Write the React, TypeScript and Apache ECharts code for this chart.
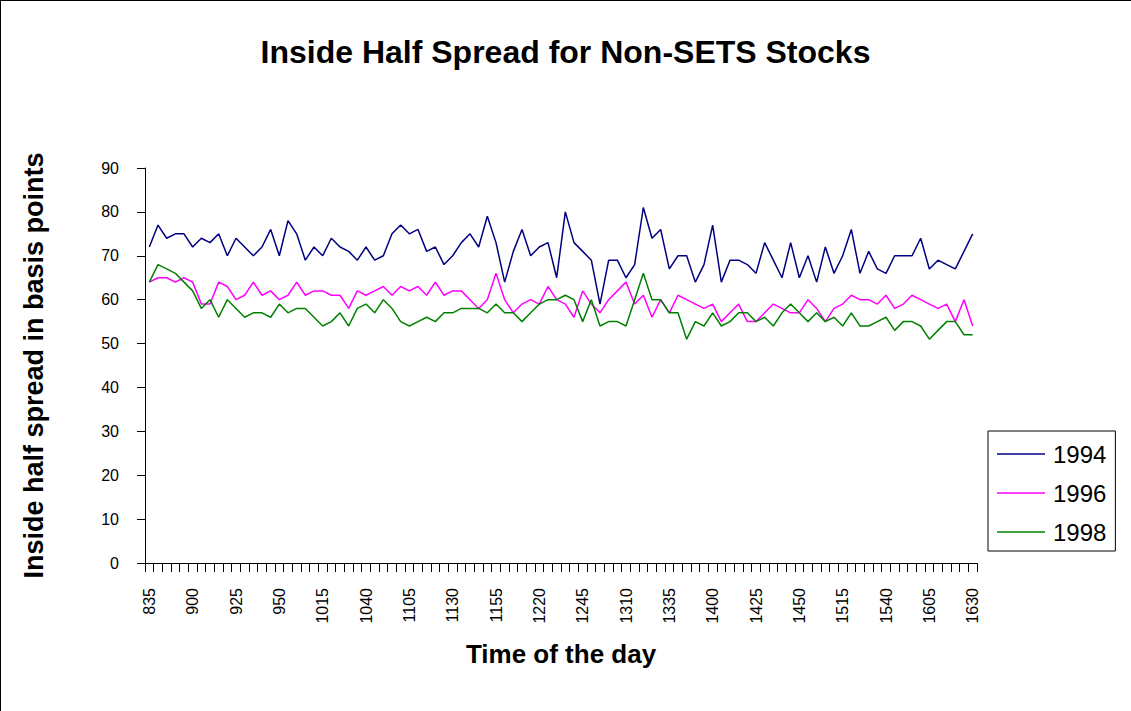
import React, { useEffect, useRef } from "react";
import * as echarts from "echarts";

const times: string[] = [
  "835","840","845","850","855","900","905","910","915","920","925","930","935","940","945","950",
  "955","1000","1005","1010","1015","1020","1025","1030","1035","1040","1045","1050","1055","1100","1105","1110",
  "1115","1120","1125","1130","1135","1140","1145","1150","1155","1200","1205","1210","1215","1220","1225","1230",
  "1235","1240","1245","1250","1255","1300","1305","1310","1315","1320","1325","1330","1335","1340","1345","1350",
  "1355","1400","1405","1410","1415","1420","1425","1430","1435","1440","1445","1450","1455","1500","1505","1510",
  "1515","1520","1525","1530","1535","1540","1545","1550","1555","1600","1605","1610","1615","1620","1625","1630",
];

const y1994: number[] = [
  72,77,74,75,75,72,74,73,75,70,74,72,70,72,76,70,
  78,75,69,72,70,74,72,71,69,72,69,70,75,77,75,76,
  71,72,68,70,73,75,72,79,73,64,71,76,70,72,73,65,
  80,73,71,69,59,69,69,65,68,81,74,76,67,70,70,64,
  68,77,64,69,69,68,66,73,69,65,73,65,70,64,72,66,
  70,76,66,71,67,66,70,70,70,74,67,69,68,67,71,75,
];

const y1996: number[] = [
  64,65,65,64,65,64,59,59,64,63,60,61,64,61,62,60,
  61,64,61,62,62,61,61,58,62,61,62,63,61,63,62,63,
  61,64,61,62,62,60,58,60,66,60,57,59,60,59,63,60,
  59,56,62,59,57,60,62,64,59,61,56,60,57,61,60,59,
  58,59,55,57,59,55,55,57,59,58,57,57,60,58,55,58,
  59,61,60,60,59,61,58,59,61,60,59,58,59,55,60,54,
];

const y1998: number[] = [
  64,68,67,66,64,62,58,60,56,60,58,56,57,57,56,59,
  57,58,58,56,54,55,57,54,58,59,57,60,58,55,54,55,
  56,55,57,57,58,58,58,57,59,57,57,55,57,59,60,60,
  61,60,55,60,54,55,55,54,60,66,60,60,57,57,51,55,
  54,57,54,55,57,57,55,56,54,57,59,57,55,57,55,56,
  54,57,54,54,55,56,53,55,55,54,51,53,55,55,52,52,
];

const seriesNames: string[] = ["1994", "1996", "1998"];
const seriesColors: string[] = ["#000080", "#FF00FF", "#008000"];

const FONT = "Liberation Sans, Arial, sans-serif";

export default function App() {
  const ref = useRef<HTMLDivElement>(null);

  useEffect(() => {
    if (!ref.current) return;
    const chart = echarts.init(ref.current, undefined, { renderer: "svg" });
    const datasets = [y1994, y1996, y1998];
    chart.setOption({
      animation: false,
      backgroundColor: "#ffffff",
      textStyle: { fontFamily: FONT, color: "#000" },
      title: {
        text: "Inside Half Spread for Non-SETS Stocks",
        left: "center",
        top: 31,
        textStyle: { fontFamily: FONT, fontSize: 32, fontWeight: "bold", color: "#000" },
      },
      graphic: [
        { type: "line", shape: { x1: 0.5, y1: 0, x2: 0.5, y2: 711 }, style: { stroke: "#000", lineWidth: 1 } },
        { type: "line", shape: { x1: 0, y1: 0.5, x2: 1131, y2: 0.5 }, style: { stroke: "#000", lineWidth: 1 } },
      ],
      legend: {
        orient: "vertical",
        left: 988,
        top: 431,
        data: seriesNames,
        icon: "rect",
        itemWidth: 48,
        itemHeight: 1.5,
        itemGap: 15,
        padding: [11, 9, 7, 9],
        borderColor: "#000",
        borderWidth: 1,
        backgroundColor: "#fff",
        textStyle: { fontFamily: FONT, fontSize: 24, lineHeight: 24, color: "#000", padding: [0, 0, 0, 3] },
      },
      grid: { left: 145, right: 154, top: 168, bottom: 148, containLabel: false },
      xAxis: {
        type: "category",
        data: times,
        boundaryGap: true,
        name: "Time of the day",
        nameLocation: "middle",
        nameGap: 78,
        nameTextStyle: { fontFamily: FONT, fontSize: 26, fontWeight: "bold", color: "#000" },
        axisLine: { show: true, lineStyle: { color: "#000", width: 1 } },
        axisTick: { show: true, interval: 0, alignWithLabel: false, length: 9, lineStyle: { color: "#000" } },
        axisLabel: {
          interval: 4,
          rotate: 90,
          margin: 25,
          fontFamily: FONT,
          fontSize: 16,
          color: "#000",
        },
        splitLine: { show: false },
      },
      yAxis: {
        type: "value",
        min: 0,
        max: 90,
        interval: 10,
        name: "Inside half spread in basis points",
        nameLocation: "middle",
        nameGap: 98,
        nameRotate: 90,
        nameTextStyle: { fontFamily: FONT, fontSize: 27, fontWeight: "bold", color: "#000" },
        axisLine: { show: true, lineStyle: { color: "#000", width: 1 } },
        axisTick: { show: true, inside: false, length: 8, lineStyle: { color: "#000" } },
        axisLabel: { margin: 26, fontFamily: FONT, fontSize: 16, color: "#000" },
        splitLine: { show: false },
      },
      series: seriesNames.map((name, k) => ({
        name,
        type: "line",
        data: datasets[k],
        symbol: "none",
        showSymbol: false,
        lineStyle: { color: seriesColors[k], width: 1.5 },
        itemStyle: { color: seriesColors[k] },
      })),
    });
    return () => chart.dispose();
  }, []);

  return (
    <div
      ref={ref}
      style={{ position: "fixed", left: 0, top: 0, width: 1131, height: 711, background: "#fff" }}
    />
  );
}
